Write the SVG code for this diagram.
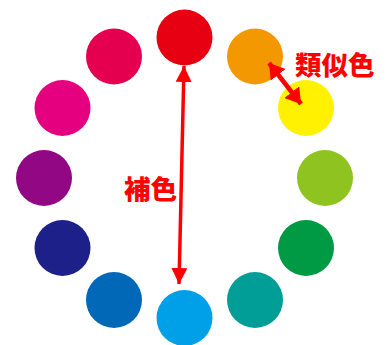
<svg xmlns="http://www.w3.org/2000/svg" width="391" height="345" viewBox="0 0 391 345">
<style>
.c{stroke:none}
.lbl{font-family:"Noto Sans CJK JP","Noto Sans CJK SC",sans-serif;font-weight:900;font-size:26.5px;fill:#FF0000}
.ar{stroke:#FF0000;fill:none}
</style>
<defs>
<marker id="hd" viewBox="0 0 16 16" refX="16" refY="8" markerWidth="16" markerHeight="16" markerUnits="userSpaceOnUse" orient="auto-start-reverse">
<path d="M0,0 L16,8 L0,16 Z" fill="#FF0000"/>
</marker>
<marker id="hd2" viewBox="0 0 15 19" refX="15" refY="9.5" markerWidth="15" markerHeight="19" markerUnits="userSpaceOnUse" orient="auto-start-reverse">
<path d="M0,0 L15,9.5 L0,19 Z" fill="#FF0000"/>
</marker>
</defs>
<rect width="391" height="345" fill="#FFFFFF"/>
<g id="red"><circle class="c" cx="184.5" cy="37.5" r="28" fill="#E60012"/></g>
<g id="orange"><circle class="c" cx="255" cy="56.5" r="28" fill="#F39800"/></g>
<g id="yellow"><circle class="c" cx="306" cy="108" r="28" fill="#FFF100"/></g>
<g id="yellowgreen"><circle class="c" cx="325" cy="178" r="28" fill="#8FC31F"/></g>
<g id="green"><circle class="c" cx="306" cy="248" r="28" fill="#009944"/></g>
<g id="teal"><circle class="c" cx="255" cy="300" r="28" fill="#009E96"/></g>
<g id="skyblue"><circle class="c" cx="184.5" cy="318" r="28" fill="#00A0E9"/></g>
<g id="blue"><circle class="c" cx="114" cy="300" r="28" fill="#0068B7"/></g>
<g id="navy"><circle class="c" cx="62.5" cy="248" r="28" fill="#1D2088"/></g>
<g id="purple"><circle class="c" cx="44" cy="178" r="28" fill="#920783"/></g>
<g id="magenta"><circle class="c" cx="62.5" cy="108" r="28" fill="#E4007F"/></g>
<g id="crimson"><circle class="c" cx="114" cy="56.5" r="28" fill="#E5004F"/></g>
<g id="connectors">
<line class="ar" x1="184" y1="66" x2="179" y2="284" stroke-width="3.5" marker-start="url(#hd)" marker-end="url(#hd)"/>
<line class="ar" x1="269" y1="63" x2="301" y2="104" stroke-width="4.5" marker-start="url(#hd2)" marker-end="url(#hd2)"/>
</g>
<g id="labels">
<text class="lbl" x="295" y="75">類似色</text>
<text class="lbl" x="124" y="199">補色</text>
</g>
</svg>
